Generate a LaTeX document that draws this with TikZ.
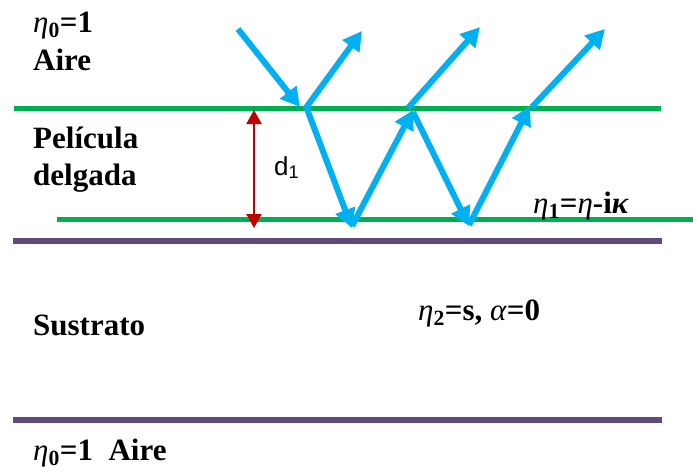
\documentclass[tikz,border=0pt]{standalone}
\usepackage{fontspec}
\setmainfont{Liberation Serif}
\setsansfont{Liberation Sans}
\usetikzlibrary{arrows.meta}
\definecolor{rayblue}{HTML}{00B0F0}
\definecolor{filmgreen}{HTML}{00B050}
\definecolor{subpurple}{HTML}{604A7B}
\definecolor{dred}{HTML}{C00000}
\tikzset{
  ray/.style={draw=rayblue, line width=6pt, -{Triangle[length=19pt,width=20pt]}},
  greenline/.style={draw=filmgreen, line width=5pt},
  purpleline/.style={draw=subpurple, line width=6pt},
  thick arrow/.style={draw=dred, line width=2pt, {Triangle[length=14pt,width=15pt]}-{Triangle[length=14pt,width=15pt]}},
  lbl/.style={anchor=base west, inner sep=0pt, font=\fontsize{31}{33}\selectfont\bfseries},
}
\newcommand{\myeta}{\textit{\mdseries η}}
\begin{document}
\begin{tikzpicture}[x=1pt,y=-1pt]
\useasboundingbox (0,0) rectangle (693,472);
% layer lines
\draw[greenline] (14,108) -- (661,108);
\draw[greenline] (57,219) -- (693,219);
\draw[purpleline] (13,241) -- (662,241);
\draw[purpleline] (13,420) -- (662,420);
% ray points
\coordinate (p0) at (238,29);
\coordinate (p1) at (300,107);
\coordinate (p1b) at (305,109);
\coordinate (p1c) at (307,109);
\coordinate (r1) at (362,31);
\coordinate (q1) at (352,228);
\coordinate (q1b) at (352,226);
\coordinate (p2) at (413,110);
\coordinate (p2b) at (408,108);
\coordinate (p2c) at (413,112);
\coordinate (r2) at (480,27);
\coordinate (q2) at (469,226);
\coordinate (q2b) at (469,225);
\coordinate (p3) at (530,106);
\coordinate (p3b) at (532,107);
\coordinate (r3) at (605,29);
\draw[ray] (p0) -- (p1);
\draw[ray] (p1b) -- (r1);
\draw[ray] (p1c) -- (q1);
\draw[ray] (q1b) -- (p2);
\draw[ray] (p2b) -- (r2);
\draw[ray] (p2c) -- (q2);
\draw[ray] (q2b) -- (p3);
\draw[ray] (p3b) -- (r3);
% thickness arrow
\coordinate (dtop) at (254,110);
\coordinate (dbot) at (254,228);
\draw[thick arrow] (dtop) -- (dbot);
\node[anchor=base west, inner sep=0pt, font=\sffamily\fontsize{26}{28}\selectfont] (d) at (274,175) {d\textsubscript{1}};
% labels
\node[lbl] (n0) at (33,32) {\myeta\textsubscript{0}=1};
\node[lbl] (aire) at (33,70) {Aire};
\node[lbl] (pel) at (33,148) {Película};
\node[lbl] (del) at (33,185) {delgada};
\node[lbl] (n1) at (533,213) {\myeta\textsubscript{1}=\myeta-i\textit{κ}};
\node[lbl] (sus) at (33,335) {Sustrato};
\node[lbl] (n2) at (418,320) {\myeta\textsubscript{2}=s, \textit{\mdseries α}=0};
\node[lbl] (n0b) at (33,460) {\myeta\textsubscript{0}=1\ \ Aire};
\end{tikzpicture}
\end{document}
